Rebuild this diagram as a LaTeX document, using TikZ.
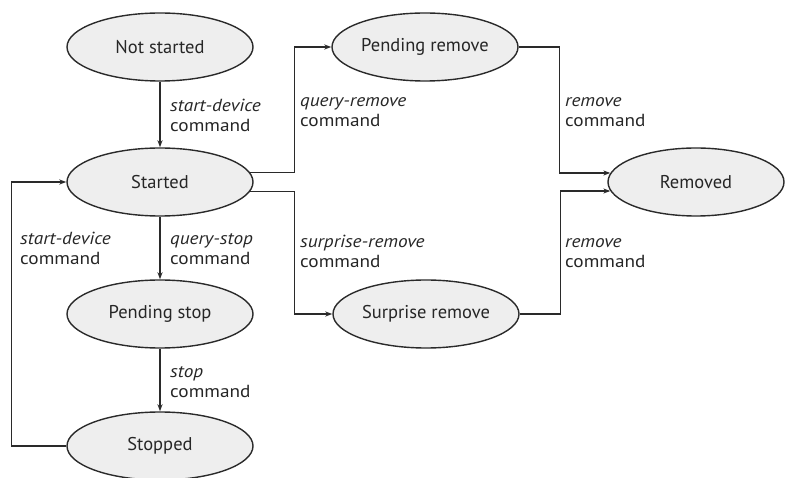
\documentclass[tikz,border=0pt]{standalone}
\usepackage{fontspec}
\setmainfont{PT Sans}
\newfontfamily\lblfont[FakeStretch=1.1]{PT Sans}
\usetikzlibrary{arrows.meta,shapes.geometric}
\definecolor{stroke}{HTML}{2A2A2A}
\definecolor{statefill}{HTML}{EEEEEE}
\tikzset{
  state/.style={ellipse,draw=stroke,fill=statefill,line width=1.4pt,
    minimum width=186pt,minimum height=68pt,inner sep=0pt,
    font=\fontsize{18.5}{20}\selectfont,text=black!85},
  conn/.style={draw=stroke,line width=1.3pt,-{Stealth[length=7pt,width=5pt]}},
  lbl/.style={anchor=base west,align=left,inner sep=0pt,
    font=\lblfont\fontsize{17.5}{20.5}\selectfont,text=black!85}
}
\begin{document}
\begin{tikzpicture}[x=1pt,y=-1pt]
\useasboundingbox (0,0) rectangle (785,478);
\node[state] (ns) at (160,47) {Not started};
\node[state] (st) at (160,182) {Started};
\node[state] (ps) at (160,314) {Pending stop};
\node[state] (sp) at (160,446) {Stopped};
\node[state] (pr) at (425,47) {Pending remove};
\node[state] (sr) at (426,314) {Surprise remove};
\node[state,minimum width=176pt] (rm) at (696,182) {Removed};

\draw[conn] (ns) -- (st);
\draw[conn] (st) -- (ps);
\draw[conn] (ps) -- (sp);
\draw[conn] (sp.west) -- ++(-55,0) |- (st.west);
\draw[conn] (st.6.4) -- ++(44.4,0) |- (pr.west);
\draw[conn] (st.-6.4) -- ++(44.4,0) |- (sr.west);
\draw[conn] (pr.east) -- ++(41,0) |- (rm.174);
\draw[conn] (sr.east) -- ++(41,0) |- (rm.186);

\node[lbl] (l1) at (170,132) {\textit{start-device}\\command};
\node[lbl] (l2) at (170,265) {\textit{query-stop}\\command};
\node[lbl] (l3) at (20,265) {\textit{start-device}\\command};
\node[lbl] (l4) at (170,398) {\textit{stop}\\command};
\node[lbl] (l5) at (300,127) {\textit{query-remove}\\command};
\node[lbl] (l6) at (300,268) {\textit{surprise-remove}\\command};
\node[lbl] (l7) at (565,127) {\textit{remove}\\command};
\node[lbl] (l8) at (565,268) {\textit{remove}\\command};
\end{tikzpicture}
\end{document}
